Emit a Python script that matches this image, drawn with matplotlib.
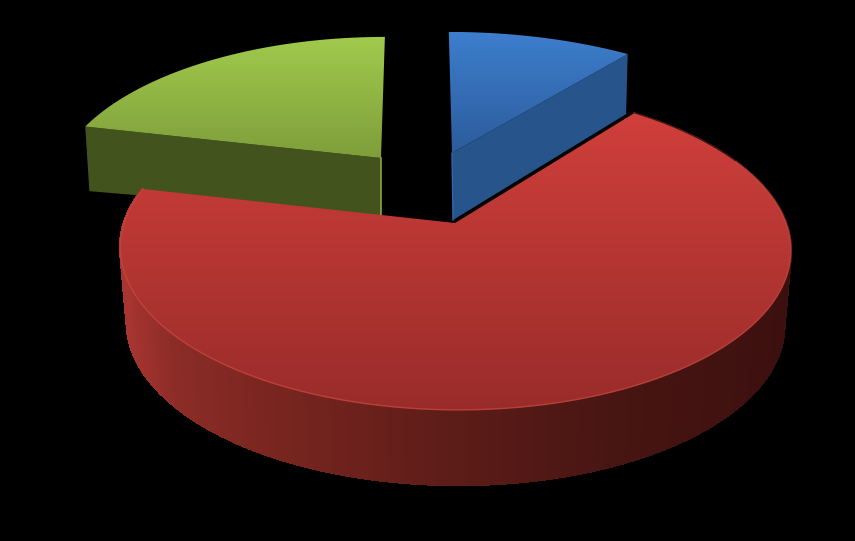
# -*- coding: utf-8 -*-
import numpy as np
import matplotlib
matplotlib.use('Agg')
import matplotlib.pyplot as plt
from matplotlib.collections import PolyCollection
from matplotlib.colors import LinearSegmentedColormap, to_rgb
from matplotlib.patches import Polygon

# pie values, percent
names = ['blue', 'red', 'green']
values = [10.6, 68.0, 21.4]

# picture geometry, exploded slices sit at other depths so each has its own numbers
# (half width, half height, perspective)
disc = {'blue': (337.0, 147.0, 0.214),
        'red': (331.0, 157.0, 0.16),
        'green': (319.0, 147.0, 0.214)}
VANISH_X, LEAN = 420.0, 0.1

apex = {'blue': (452, 153), 'red': (455, 223), 'green': (381, 158)}
# bottom face: apex position, x scale, y scale
bottom = {'blue': ((453, 220), 0.985, 1.07),
          'red': ((455, 298), 0.98, 1.0),
          'green': ((381, 216), 0.986, 0.79)}
top_colors = {'blue': ('#3d7ecd', '#2c5c9c'),
              'red': ('#d03f3b', '#992c2a'),
              'green': ('#a1ca4c', '#7f9e3b')}


def rim(name, t, bot=False):
    """points on the rim of one slice for angles t (radians, clockwise from far side)"""
    a, b, k = disc[name]
    u, v = np.sin(t), np.cos(t)
    w = 1 + k * v
    dx, dy = a * u / w, -b * v / w
    x0, y0 = apex[name]
    dx = dx - LEAN * (x0 - VANISH_X) * v
    if bot:
        (x0, y0), sx, sy = bottom[name]
        dx, dy = dx * sx, dy * sy
    return x0 + dx, y0 + dy


def gradient_face(ax, pts, c_top, c_bot, y_top, y_bot):
    cmap = LinearSegmentedColormap.from_list('g', [c_top, c_bot])
    grad = np.linspace(0, 1, 256).reshape(-1, 1)
    im = ax.imshow(grad, cmap=cmap, aspect='auto', extent=(0, 855, y_bot, y_top), zorder=2)
    patch = Polygon(pts, closed=True, transform=ax.transData, fc='none', ec='none')
    ax.add_patch(patch)
    im.set_clip_path(patch)
    return im


def mix(stops, x):
    xs = [s[0] for s in stops]
    rgb = np.array([to_rgb(s[1]) for s in stops])
    return [np.interp(x, xs, rgb[:, i]) for i in range(3)]


fig = plt.figure(figsize=(8.55, 5.41), dpi=100, facecolor='black')
ax = fig.add_axes([0, 0, 1, 1])
ax.set_facecolor('black')

edges = np.cumsum([0] + values) / sum(values) * 2 * np.pi
span = {n: (edges[i], edges[i + 1]) for i, n in enumerate(names)}

# green slice, front cut face then top
t = np.linspace(*span['green'], 80)
x, y = rim('green', t)
xb, yb = rim('green', t[:1], bot=True)
bx, by = bottom['green'][0]
ax.fill([apex['green'][0], x[0], xb[0], bx, ], [apex['green'][1], y[0], yb[0], by],
        color='#43531d', lw=0, zorder=1)
gradient_face(ax, np.column_stack([np.r_[apex['green'][0], x], np.r_[apex['green'][1], y]]),
              *top_colors['green'], 36, 158)
ax.plot([apex['green'][0], bx], [apex['green'][1], by], color='#8aa83e', lw=1.2, zorder=3)

# blue slice
t = np.linspace(*span['blue'], 50)
x, y = rim('blue', t)
xb, yb = rim('blue', t[-1:], bot=True)
bx, by = bottom['blue'][0]
ax.fill([apex['blue'][0], x[-1], xb[0], bx], [apex['blue'][1], y[-1], yb[0], by],
        color='#27548a', lw=0, zorder=1)
gradient_face(ax, np.column_stack([np.r_[apex['blue'][0], x], np.r_[apex['blue'][1], y]]),
              *top_colors['blue'], 32, 153)
ax.plot([apex['blue'][0], bx], [apex['blue'][1], by], color='#2f66ad', lw=1.0, zorder=3)

# red slice, side wall in thin strips so it can shade round the disc
t = np.linspace(*span['red'], 360)
x, y = rim('red', t)
xb, yb = rim('red', t, bot=True)
wall = [[(x[i], y[i]), (x[i + 1], y[i + 1]), (xb[i + 1], yb[i + 1]), (xb[i], yb[i])]
        for i in range(len(t) - 1)]
shade = [(121, '#a83531'), (170, '#8c2c27'), (260, '#7b2620'), (450, '#5d1c18'),
         (620, '#471512'), (790, '#3c100f')]
cols = [mix(shade, (x[i] + x[i + 1]) / 2) for i in range(len(t) - 1)]
ax.add_collection(PolyCollection(wall, facecolors=cols, edgecolors=cols, linewidths=1.2,
                                 antialiaseds=False, zorder=4))

top = np.column_stack([np.r_[apex['red'][0], x], np.r_[apex['red'][1], y]])
im = gradient_face(ax, top, *top_colors['red'], 113, 410)
im.set_zorder(5)
ax.plot(x[40:], y[40:], color='#c8473f', lw=1.0, alpha=0.8, zorder=6)

ax.set_xlim(0, 855)
ax.set_ylim(541, 0)
ax.axis('off')
fig.savefig('out.png', dpi=100, facecolor='black')
